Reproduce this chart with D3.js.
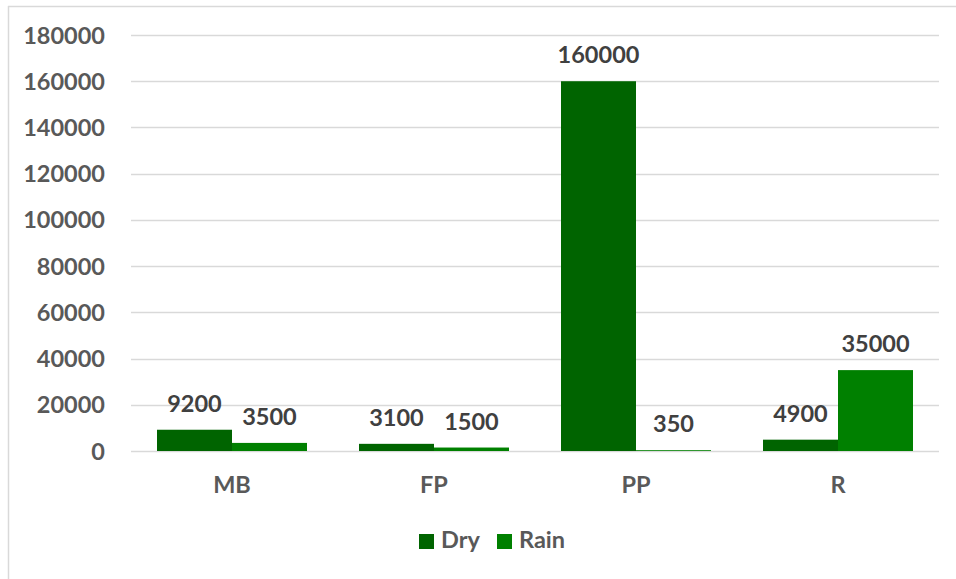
<!DOCTYPE html>
<html>
<head>
<meta charset="utf-8">
<script src="https://cdn.jsdelivr.net/npm/d3@7"></script>
<style>
  html, body { margin: 0; padding: 0; background: #fff; }
  svg { display: block; font-family: Lato, "Open Sans", sans-serif; font-weight: bold; }
</style>
</head>
<body>
<svg id="chart" width="956" height="579"></svg>
<script>
// Sample counts per site type, dry vs rainy season
const categories = ["MB", "FP", "PP", "R"];
const seriesNames = ["Dry", "Rain"];
const dryValues = [9200, 3100, 160000, 4900];
const rainValues = [3500, 1500, 350, 35000];
const yTicks = [0, 20000, 40000, 60000, 80000, 100000, 120000, 140000, 160000, 180000];
const colors = { Dry: "#006400", Rain: "#008000" };
const fontSize = 23.5;

const rows = categories.map((c, i) => ({ cat: c, Dry: dryValues[i], Rain: rainValues[i] }));

const svg = d3.select("#chart");
const plot = { left: 131, right: 939, top: 35, bottom: 451 };

// Chart frame (top and left edges)
svg.append("line").attr("x1", 8).attr("x2", 956).attr("y1", 6.5).attr("y2", 6.5)
  .attr("stroke", "#d9d9d9").attr("stroke-width", 1.5);
svg.append("line").attr("x1", 8.5).attr("x2", 8.5).attr("y1", 6).attr("y2", 579)
  .attr("stroke", "#d9d9d9").attr("stroke-width", 1.5);

const y = d3.scaleLinear().domain([0, 180000]).range([plot.bottom, plot.top]);
const pad = 52 / 202;
const x0 = d3.scaleBand().domain(categories).range([plot.left, plot.right])
  .paddingInner(pad).paddingOuter(pad / 2);
const x1 = d3.scaleBand().domain(seriesNames).range([0, x0.bandwidth()]);

// Horizontal gridlines
svg.append("g").selectAll("line").data(yTicks).join("line")
  .attr("x1", plot.left).attr("x2", plot.right)
  .attr("y1", d => Math.round(y(d)) + 0.5).attr("y2", d => Math.round(y(d)) + 0.5)
  .attr("stroke", "#d9d9d9").attr("stroke-width", 1.5);

// Y axis labels
svg.append("g").selectAll("text").data(yTicks).join("text")
  .attr("x", 105).attr("y", d => y(d) + 8.5)
  .attr("text-anchor", "end").attr("font-size", fontSize).attr("fill", "#595959")
  .text(d => d);

// Bars and value labels
const groups = svg.append("g").selectAll("g").data(rows).join("g")
  .attr("transform", d => `translate(${x0(d.cat)},0)`);

groups.selectAll("rect").data(d => seriesNames.map(s => ({ s, v: d[s] }))).join("rect")
  .attr("x", d => x1(d.s)).attr("width", x1.bandwidth())
  .attr("y", d => y(d.v)).attr("height", d => y(0) - y(d.v))
  .attr("fill", d => colors[d.s]);

groups.selectAll("text").data(d => seriesNames.map(s => ({ s, v: d[s] }))).join("text")
  .attr("x", d => x1(d.s) + x1.bandwidth() / 2).attr("y", d => y(d.v) - 18)
  .attr("text-anchor", "middle").attr("font-size", fontSize).attr("fill", "#404040")
  .text(d => d.v);

// Category labels
svg.append("g").selectAll("text").data(categories).join("text")
  .attr("x", d => x0(d) + x0.bandwidth() / 2).attr("y", 493)
  .attr("text-anchor", "middle").attr("font-size", fontSize).attr("fill", "#595959")
  .text(d => d);

// Legend
const legend = svg.append("g");
const legendItems = [{ s: "Dry", x: 419 }, { s: "Rain", x: 497 }];
legend.selectAll("rect").data(legendItems).join("rect")
  .attr("x", d => d.x).attr("y", 534).attr("width", 15).attr("height", 15)
  .attr("fill", d => colors[d.s]);
legend.selectAll("text").data(legendItems).join("text")
  .attr("x", d => d.x + 22).attr("y", 548)
  .attr("font-size", fontSize).attr("fill", "#595959")
  .text(d => d.s);
</script>
</body>
</html>
